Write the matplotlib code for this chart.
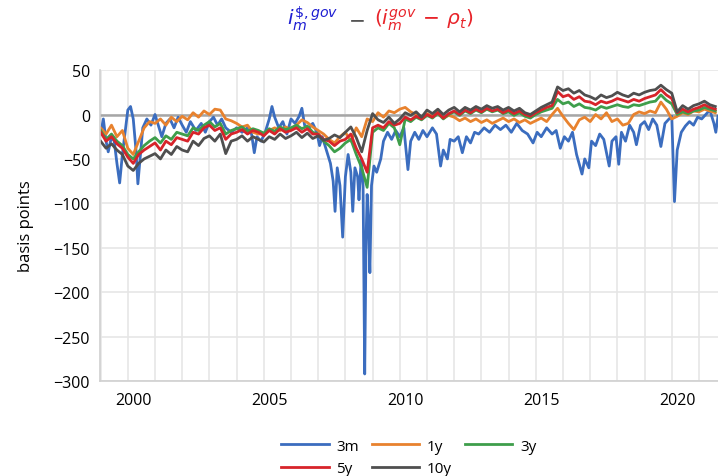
import matplotlib
matplotlib.use("Agg")
import matplotlib.pyplot as plt
import matplotlib.transforms as mtransforms
import numpy as np

plt.rcParams['font.family'] = ['Open Sans', 'DejaVu Sans']
plt.rcParams['mathtext.fontset'] = 'dejavusans'

# long maturities, sampled every 0.2 years from 1999.0
start_year = 1999.0
step = 0.2

y10 = [-30, -38, -33, -40, -45, -58, -63, -55, -50, -47,
       -44, -50, -40, -45, -36, -40, -42, -30, -35, -27,
       -24, -30, -22, -44, -30, -28, -24, -30, -25, -28,
       -31, -25, -28, -22, -27, -24, -20, -26, -21, -27,
       -24, -29, -27, -23, -26, -20, -14, -26, -42, -18,
       1, -6, -9, -3, -10, -5, 2, -1, 3, -3,
       5, 1, 6, 0, 5, 8, 3, 8, 5, 9,
       6, 10, 7, 9, 5, 8, 4, 7, 2, 0,
       4, 8, 11, 14, 31, 27, 29, 24, 27, 22,
       20, 17, 22, 19, 21, 25, 22, 20, 24, 22,
       25, 27, 28, 33, 28, 24, 3, 10, 6, 10,
       12, 15, 11, 9]

y5 = [-20, -30, -25, -33, -38, -48, -55, -45, -40, -36,
      -32, -40, -30, -34, -26, -28, -30, -20, -22, -15,
      -12, -18, -15, -28, -22, -20, -17, -22, -18, -20,
      -24, -18, -22, -16, -20, -18, -15, -20, -16, -22,
      -22, -28, -30, -35, -30, -28, -22, -38, -50, -65,
      -15, -12, -15, -8, -12, -10, -3, -6, -2, -5,
      0, -3, 2, -4, 1, 4, 0, 5, 2, 6,
      3, 7, 4, 6, 2, 5, 1, 4, 0, -2,
      2, 5, 8, 10, 26, 20, 22, 17, 20, 15,
      14, 11, 15, 13, 15, 18, 16, 14, 17, 15,
      18, 20, 22, 28, 22, 18, 2, 6, 3, 6,
      8, 11, 8, 6]

y3 = [-18, -28, -22, -30, -35, -45, -50, -42, -35, -30,
      -26, -32, -24, -28, -20, -22, -24, -15, -18, -12,
      -8, -14, -10, -22, -18, -16, -14, -19, -16, -18,
      -21, -16, -19, -14, -17, -15, -12, -16, -13, -20,
      -22, -30, -35, -42, -38, -32, -28, -45, -60, -82,
      -20, -15, -18, -10, -15, -34, -5, -8, -3, -6,
      -1, -4, 1, -5, 0, 3, -1, 4, 1, 5,
      2, 6, 3, 5, 1, 3, -1, 2, -2, -4,
      0, 3, 5, 7, 17, 12, 14, 9, 12, 8,
      7, 5, 9, 7, 9, 11, 9, 8, 11, 10,
      12, 14, 15, 22, 16, 12, 0, 3, 1, 4,
      5, 8, 6, 4]

y1 = [-15, -22, -12, -25, -18, -38, -45, -30, -15, -8,
      -10, -5, -12, -3, -8, -2, -6, 2, -3, 4,
      0, 6, 5, -5, -7, -10, -14, -12, -20, -22,
      -21, -18, -15, -18, -14, -17, -12, -6, -9, -14,
      -18, -22, -28, -32, -25, -20, -30, -15, -25, -5,
      -8, 2, -3, 4, 2, 6, 8, 3, 0, -3,
      1, -2, 3, -4, -1, -3, -7, -4, -8, -5,
      -9, -6, -10, -7, -4, -8, -5, -9, -6, -10,
      -7, -4, -8, 0, 7, -2, -10, -17, -6, -3,
      -8, 0, -5, 2, -8, -5, -12, -10, 0, 3,
      1, 4, 2, 14, 6, -5, -2, 2, 0, 4,
      3, 6, 4, 2]

# 3-month series, irregular dates to keep the spikes
t3m = [1999.0, 1999.1, 1999.2, 1999.28, 1999.4, 1999.5, 1999.6, 1999.7, 1999.8, 1999.9,
       2000.0, 2000.1, 2000.2, 2000.3, 2000.37, 2000.45, 2000.55, 2000.7, 2000.85, 2001.0,
       2001.15, 2001.25, 2001.4, 2001.55, 2001.7, 2001.85, 2002.0, 2002.15, 2002.3, 2002.5,
       2002.7, 2002.85, 2003.0, 2003.15, 2003.3, 2003.45, 2003.6, 2003.8, 2004.0, 2004.2,
       2004.4, 2004.55, 2004.65, 2004.75, 2004.9, 2005.05, 2005.2, 2005.3, 2005.4, 2005.55,
       2005.7, 2005.85, 2006.0, 2006.15, 2006.3, 2006.4, 2006.5, 2006.65, 2006.8, 2006.95,
       2007.05, 2007.15, 2007.3, 2007.45, 2007.55, 2007.62, 2007.7, 2007.8, 2007.9, 2008.0,
       2008.1, 2008.2, 2008.27, 2008.35, 2008.45, 2008.5, 2008.58, 2008.65, 2008.71, 2008.76,
       2008.8, 2008.84, 2008.9, 2008.96, 2009.05, 2009.15, 2009.3, 2009.4, 2009.55, 2009.7,
       2009.85, 2010.0, 2010.15, 2010.3, 2010.4, 2010.55, 2010.7, 2010.85, 2011.0, 2011.2,
       2011.35, 2011.5, 2011.6, 2011.75, 2011.85, 2012.0, 2012.15, 2012.3, 2012.45, 2012.6,
       2012.75, 2012.9, 2013.1, 2013.3, 2013.5, 2013.7, 2013.9, 2014.1, 2014.3, 2014.5,
       2014.7, 2014.9, 2015.05, 2015.2, 2015.4, 2015.6, 2015.75, 2015.9, 2016.05, 2016.2,
       2016.35, 2016.5, 2016.7, 2016.8, 2016.95, 2017.05, 2017.2, 2017.35, 2017.5, 2017.7,
       2017.8, 2017.95, 2018.05, 2018.15, 2018.3, 2018.45, 2018.6, 2018.7, 2018.85, 2019.0,
       2019.15, 2019.3, 2019.45, 2019.6, 2019.75, 2019.9, 2020.0, 2020.1, 2020.2, 2020.35,
       2020.5, 2020.65, 2020.8, 2020.95, 2021.1, 2021.25, 2021.4, 2021.55, 2021.62, 2021.7]
y3m = [-22, -5, -30, -42, -25, -30, -55, -77, -45, -20,
       5, 9, -5, -40, -78, -50, -15, -5, -12, 0,
       -15, -25, -10, -5, -15, -3, -12, -20, -8, -18,
       -10, -20, -8, -3, -12, -5, -15, -20, -15, -20,
       -15, -22, -43, -25, -30, -20, -5, 9, -3, -15,
       -8, -22, -5, -10, -2, 7, -12, -15, -10, -20,
       -35, -25, -40, -55, -75, -109, -60, -80, -138, -70,
       -45, -65, -109, -60, -70, -96, -50, -80, -292, -140,
       -90, -115, -178, -80, -58, -65, -50, -30, -20, -28,
       -18, -25, -15, -62, -30, -20, -28, -18, -25, -15,
       -22, -58, -40, -50, -28, -30, -25, -43, -25, -32,
       -20, -22, -15, -20, -12, -17, -12, -20, -10, -18,
       -22, -32, -20, -25, -15, -22, -18, -38, -25, -30,
       -20, -45, -67, -50, -60, -30, -35, -22, -28, -58,
       -30, -25, -56, -20, -30, -12, -20, -34, -12, -8,
       -17, -5, -12, -36, -10, -5, -2, -98, -40, -20,
       -13, -8, -12, -3, -5, 0, 5, -10, -20, -2]

labels = ['3m', '1y', '3y', '5y', '10y']
colors = ['#3B6DBF', '#E8822E', '#3E9E4B', '#D7242A', '#4F4F4F']

fig = plt.figure(figsize=(7.18, 4.77), dpi=100)
ax = fig.add_axes([0.139, 0.199, 0.861, 0.652])

lines = {}
lines['3m'], = ax.plot(t3m, y3m, color=colors[0], lw=2.0, label='3m')
for name, vals, c in zip(labels[1:], [y1, y3, y5, y10], colors[1:]):
    t = start_year + step * np.arange(len(vals))
    lines[name], = ax.plot(t, vals, color=c, lw=2.0, label=name)

ax.axhline(0, color='#A6A6A6', lw=1.8, zorder=1)
ax.set_xlim(1998.97, 2021.7)
ax.set_ylim(-300, 50)
ax.set_yticks(np.arange(-300, 51, 50))
ax.set_xticks([2000, 2005, 2010, 2015, 2020])
ax.set_xticks(np.arange(1999, 2022), minor=True)
ax.grid(True, which='both', axis='x', color='#E6E6E6', lw=1.2)
ax.grid(True, which='major', axis='y', color='#E6E6E6', lw=1.2)
ax.set_axisbelow(True)
ax.tick_params(which='both', length=0, labelsize=11.5, colors='black')
ax.tick_params(axis='x', pad=8)
ax.tick_params(axis='y', pad=7)
for s in ['top', 'right']:
    ax.spines[s].set_visible(False)
for s in ['left', 'bottom']:
    ax.spines[s].set_color('#D0D0D0')
    ax.spines[s].set_linewidth(1.2)

# labels sit a little right of the year gridline
off = mtransforms.ScaledTranslation(6 / 100, 0, fig.dpi_scale_trans)
for lab in ax.get_xticklabels():
    lab.set_transform(lab.get_transform() + off)

ax.set_ylabel('basis points', fontsize=12, labelpad=14)

order = ['3m', '5y', '1y', '10y', '3y']
ax.legend([lines[k] for k in order], order, loc='upper center',
          bbox_to_anchor=(0.5, -0.165), ncol=3, frameon=False, fontsize=11,
          handlelength=3.1, handletextpad=0.5, columnspacing=0.85,
          labelspacing=0.5, borderaxespad=0)

# title built from coloured pieces
renderer = fig.canvas.get_renderer()
W, H = fig.bbox.width, fig.bbox.height
base_y = 1 - 25 / 477
x = 287 / W
pieces = [(r'$i_m^{\$,gov}$', '#1E1ED2', 10),
          (r'$-$', '#555555', 9),
          (r'$(i_m^{gov}\,-\,\rho_t)$', '#E8242A', 0)]
for txt, c, gap in pieces:
    t = fig.text(x, base_y, txt, color=c, fontsize=14.5, ha='left', va='baseline')
    bb = t.get_window_extent(renderer)
    x = bb.x1 / W + gap / W

fig.savefig('out.png', dpi=100)
